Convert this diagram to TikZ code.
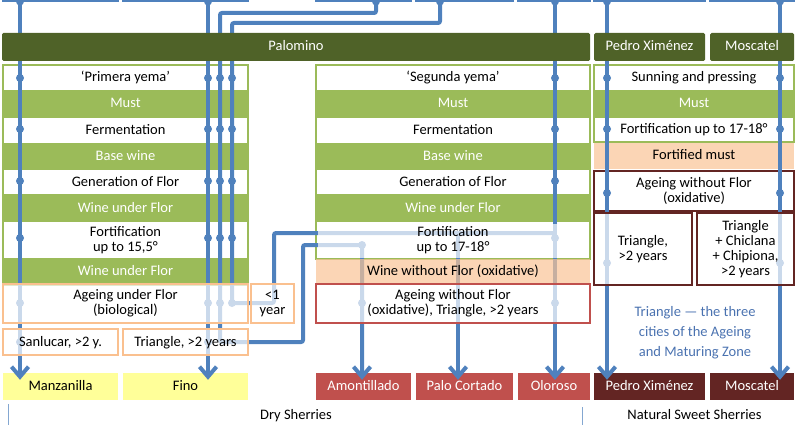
\documentclass[tikz,border=0pt]{standalone}
\usepackage{fontspec}
\setmainfont{Carlito}
\usetikzlibrary{arrows.meta,positioning}

\definecolor{palomino}{HTML}{4F6228}
\definecolor{leaf}{HTML}{9BBB59}
\definecolor{peach}{HTML}{FBD5B5}
\definecolor{peachveil}{HTML}{F9C395}
\definecolor{peachline}{HTML}{FAC08F}
\definecolor{wine}{HTML}{C0504D}
\definecolor{darkwine}{HTML}{632523}
\definecolor{straw}{HTML}{FFFF99}
\definecolor{flowblue}{HTML}{4F81BD}
\definecolor{note}{HTML}{4A72B0}

\begin{document}
\begin{tikzpicture}[x=1pt,y=-1pt,font=\fontsize{14.5}{15}\selectfont,
  every node/.style={inner sep=0pt},
  line1/.style={text height=10pt,text depth=2pt},
  grape/.style={line1,fill=palomino,text=white,rounded corners=1.5pt,minimum height=28pt},
  greenrow/.style={line1,fill=leaf,text=white},
  frame/.style={draw=leaf,line width=2.5pt},
  source/.style={draw=flowblue,line width=2pt,fill=white,minimum height=21pt},
  veil/.style={fill=white,fill opacity=0.7,text opacity=1},
  sherry/.style={line1,minimum height=27pt},
  flowline/.style={draw=flowblue,line width=4pt,rounded corners=2pt},
  tip/.style={-{Straight Barb[length=10pt,width=17pt]},shorten >=-7pt}]
  \clip (0,0) rectangle (801,425);

  % Primera yema
  \node [frame,minimum width=245pt,minimum height=220pt] (col1) at (125.5,175) {};
  \node [line1] (yema1) at (125.5,77.5) {‘Primera yema’};
  \node [greenrow,minimum width=245pt,minimum height=28pt] (must1) at (125.5,104) {Must};
  \node [line1] (ferm1) at (125.5,130.5) {Fermentation};
  \node [greenrow,minimum width=245pt,minimum height=27pt] (base1) at (125.5,156.5) {Base wine};
  \node [line1] (gen1) at (125.5,182) {Generation of Flor};
  \node [greenrow,minimum width=245pt,minimum height=28pt] (under1) at (125.5,208) {Wine under Flor};
  \node [align=center] (fort1) at (125.5,240) {Fortification\\up to 15,5°};
  \node [greenrow,minimum width=245pt,minimum height=27pt] (under1b) at (125.5,271.5) {Wine under Flor};

  % Segunda yema
  \node [frame,minimum width=274pt,minimum height=194pt] (col2) at (453,162) {};
  \node [line1] (yema2) at (453,77.5) {‘Segunda yema’};
  \node [greenrow,minimum width=274pt,minimum height=28pt] (must2) at (453,104) {Must};
  \node [line1] (ferm2) at (453,130.5) {Fermentation};
  \node [greenrow,minimum width=274pt,minimum height=27pt] (base2) at (453,156.5) {Base wine};
  \node [line1] (gen2) at (453,182) {Generation of Flor};
  \node [greenrow,minimum width=274pt,minimum height=28pt] (under2) at (453,208) {Wine under Flor};

  % Pedro Ximenez and Moscatel
  \node [frame,minimum width=200pt,minimum height=77pt] (col3) at (694,103.5) {};
  \node [line1] (sun3) at (694,77.5) {Sunning and pressing};
  \node [greenrow,minimum width=200pt,minimum height=28pt] (must3) at (694,104) {Must};
  \node [line1] (fort3) at (694,130) {Fortification up to 17-18°};
  \node [line1,fill=peach,minimum width=200pt,minimum height=26pt] (fortified3) at (694,156) {Fortified must};
  \node [draw=darkwine,line width=2pt,fill=white,minimum width=200pt,minimum height=40pt,align=center] (ageing3) at (694,191) {Ageing without Flor\\(oxidative)};

  % sherries
  \node [sherry,fill=straw,minimum width=115pt] (manz) at (60.5,386.5) {Manzanilla};
  \node [sherry,fill=straw,minimum width=125pt] (fino) at (185.5,386.5) {Fino};
  \node [sherry,fill=wine,text=white,minimum width=95pt] (amon) at (363.5,386.5) {Amontillado};
  \node [sherry,fill=wine,text=white,minimum width=97pt] (palo) at (464.5,386.5) {Palo Cortado};
  \node [sherry,fill=wine,text=white,minimum width=72pt] (olor) at (554,386.5) {Oloroso};
  \node [sherry,fill=darkwine,text=white,minimum width=111pt] (pxb) at (649.5,386.5) {Pedro Ximénez};
  \node [sherry,fill=darkwine,text=white,minimum width=84pt] (mosc) at (752,386.5) {Moscatel};

  \node [source,minimum width=115pt] (srcManz) at (60.5,-9) {};
  \node [source,minimum width=125pt] (srcFino) at (185.5,-9) {};
  \node [source,minimum width=95pt] (srcAmon) at (363.5,-9) {};
  \node [source,minimum width=97pt] (srcPalo) at (464.5,-9) {};
  \node [source,minimum width=72pt] (srcOlor) at (554,-9) {};
  \node [source,minimum width=111pt] (srcPX) at (649.5,-9) {};
  \node [source,minimum width=84pt] (srcMosc) at (752,-9) {};

  \coordinate (xManz) at (20,0);
  \coordinate (xFino) at (208,0);
  \coordinate (xAmon) at (376,0);
  \coordinate (xPalo) at (440,0);
  \coordinate (xOlor) at (555,0);
  \coordinate (xPX) at (607,0);
  \coordinate (xMosc) at (780,0);
  \coordinate (amonTop) at (220,13);
  \coordinate (amonTurn) at (303,342);
  \coordinate (amonDown) at (362,245);
  \coordinate (paloTop) at (232,23);
  \coordinate (paloTurn) at (274,303);
  \coordinate (paloJoin) at (555,233);
  \coordinate (paloDown) at (458,233);

  \draw [flowline,tip] (srcManz.south -| xManz) -- (manz.north -| xManz);
  \draw [flowline,tip] (srcFino.south -| xFino) -- (fino.north -| xFino);
  \draw [flowline,tip] (srcAmon.south -| xAmon) |- (amonTop) |- (amonTurn) |- (amonDown) -- (amon.north -| amonDown);
  \draw [flowline] (srcPalo.south -| xPalo) |- (paloTop) |- (paloTurn) |- (paloJoin);
  \draw [flowline,tip] (paloDown) -- (palo.north -| paloDown);
  \draw [flowline,tip] (srcOlor.south -| xOlor) -- (olor.north -| xOlor);
  \draw [flowline,tip] (srcPX.south -| xPX) -- (pxb.north -| xPX);
  \draw [flowline,tip] (srcMosc.south -| xMosc) -- (mosc.north -| xMosc);

  \foreach \x in {20,208,376,440,555,607,780}
    \fill [flowblue] (\x,1.5) circle (4pt);
  \foreach \x in {20,208,220,232}
    \foreach \y in {78,129,181,238,303}
      \fill [flowblue] (\x,\y) circle (4pt);
  \foreach \x/\y in {20/342,208/342,555/78,555/129,555/181,555/238,362/245,362/303,555/303,607/78,607/129,607/193,607/263,780/78,780/129,780/193,780/263}
    \fill [flowblue] (\x,\y) circle (4pt);

  % faded boxes over the lines
  \node [veil,draw=peachline,line width=2pt,minimum width=245pt,minimum height=39pt,align=center] (ageing1) at (125.5,303.5) {Ageing under Flor\\(biological)};
  \node [veil,draw=peachline,line width=2pt,minimum width=43pt,minimum height=39pt,align=center] (young1) at (272.5,303.5) {<1\\year};
  \node [veil,line1,draw=peachline,line width=2pt,minimum width=115pt,minimum height=26pt] (sanlucar) at (60.5,342) {Sanlucar, >2 y.};
  \node [veil,line1,draw=peachline,line width=2pt,minimum width=125pt,minimum height=26pt] (triangle1) at (185.5,342) {Triangle, >2 years};
  \node [veil,minimum width=271pt,minimum height=34pt,align=center] (fort2) at (453,240.5) {Fortification\\up to 17-18°};
  \node [veil,line1,fill=peachveil,minimum width=274pt,minimum height=24pt] (without2) at (453,271) {Wine without Flor (oxidative)};
  \node [veil,draw=wine,line width=2pt,minimum width=274pt,minimum height=39pt,align=center] (ageing2) at (453,303.5) {Ageing without Flor\\(oxidative), Triangle, >2 years};
  \node [veil,draw=darkwine,line width=2pt,minimum width=98pt,minimum height=72pt,align=center] (triangle3) at (643,249) {Triangle,\\>2 years};
  \node [veil,draw=darkwine,line width=2pt,minimum width=97pt,minimum height=72pt,align=center] (triangle4) at (745.5,249) {Triangle\\+ Chiclana\\+ Chipiona,\\>2 years};

  % grapes
  \node [grape,minimum width=588pt] (palo grape) at (296,47) {Palomino};
  \node [grape,minimum width=111pt] (px grape) at (649.5,47) {Pedro Ximénez};
  \node [grape,minimum width=84pt] (mosc grape) at (752,47) {Moscatel};

  \node [text=note,align=center,font=\fontsize{14.5}{20}\selectfont] (zone) at (695,333) {Triangle --- the three\\cities of the Ageing\\and Maturing Zone};
  \node [line1] (dry) at (296,415) {Dry Sherries};
  \node [line1] (sweet) at (694.5,415) {Natural Sweet Sherries};
  \draw [flowblue!70,line width=1pt] (8,404) -- (8,425);
  \draw [flowblue!70,line width=1pt] (582,407) -- (582,425);
\end{tikzpicture}
\end{document}
